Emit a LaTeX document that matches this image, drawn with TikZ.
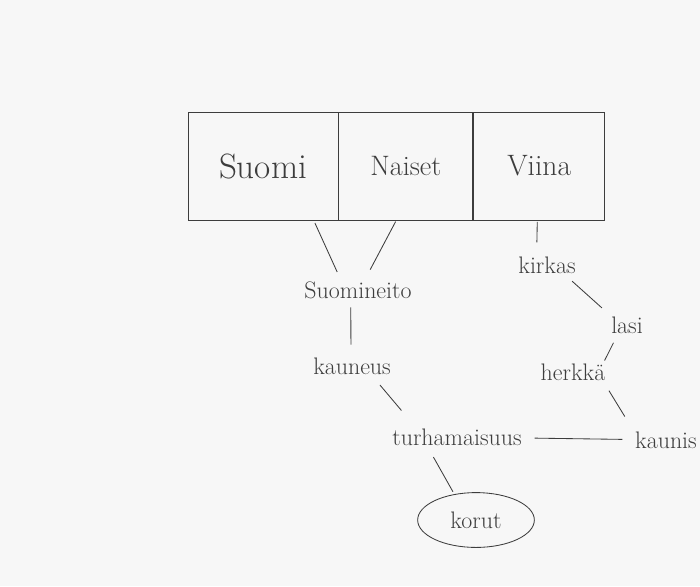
\documentclass[tikz,border=0pt]{standalone}
\usepackage{fontspec}
\usepackage{tikz}
\usetikzlibrary{positioning,shapes.geometric}
\definecolor{pencil}{rgb}{0.24,0.24,0.24}
\definecolor{paper}{rgb}{0.97,0.97,0.97}

\begin{document}
\begin{tikzpicture}[x=0.25mm,y=-0.25mm,
    cell/.style={draw=pencil,line width=0.6pt,minimum width=#1,minimum height=76.8pt,inner sep=0pt,text=pencil},
    word/.style={text=pencil,inner sep=2pt,font=\fontsize{17}{20}\selectfont},
    link/.style={pencil,line width=0.6pt}]
  \fill[paper] (0,0) rectangle (700,586);
  \useasboundingbox (0,0) rectangle (700,586);
  % the three headings
  \node[cell=106.7pt,font=\fontsize{25}{30}\selectfont] (suomi) at (263,166) {Suomi};
  \node[cell=95.3pt,font=\fontsize{20}{24}\selectfont,right=0pt of suomi] (naiset) {Naiset};
  \node[cell=93.2pt,font=\fontsize{21}{25}\selectfont,right=0pt of naiset] (viina) {Viina};
  % associations
  \node[word] (neito) at (358,290) {Suomineito};
  \node[word] (kauneus) at (352,366) {kauneus};
  \node[word] (turha) at (457,437) {turhamaisuus};
  \node[word,ellipse,draw=pencil,line width=0.6pt,minimum width=83pt,minimum height=39pt,inner sep=0pt] (korut) at (476,520) {korut};
  \node[word] (kirkas) at (547,265) {kirkas};
  \node[word] (lasi) at (627,325) {lasi};
  \node[word] (herkka) at (573,372) {herkkä};
  \node[word] (kaunis) at (666,440) {kaunis};
  \draw[link,shorten <=2pt,shorten >=5pt] (suomi.-47) -- (neito.147);
  \draw[link,shorten <=1pt,shorten >=7pt] (naiset.-100) -- (neito.57);
  \draw[link,shorten <=1pt,shorten >=8pt] (viina.-92) -- (kirkas.132);
  \draw[link,shorten <=4pt,shorten >=7pt] (neito.-122) -- (kauneus.95);
  \draw[link,shorten <=7pt,shorten >=14pt] (kauneus.-28) -- (turha.165);
  \draw[link,shorten <=5pt,shorten >=6pt] (kirkas.-30) -- (lasi.north west);
  \draw[link,shorten <=5pt] (lasi.-132) -- (herkka.20);
  \draw[link,shorten <=6pt,shorten >=10pt] (herkka.-20) -- (kaunis.north west);
  \draw[link,shorten <=7pt,shorten >=7pt] (turha) -- (kaunis);
  \draw[link,shorten <=7pt,shorten >=2pt] (turha.-158) -- (korut.130);
\end{tikzpicture}
\end{document}
